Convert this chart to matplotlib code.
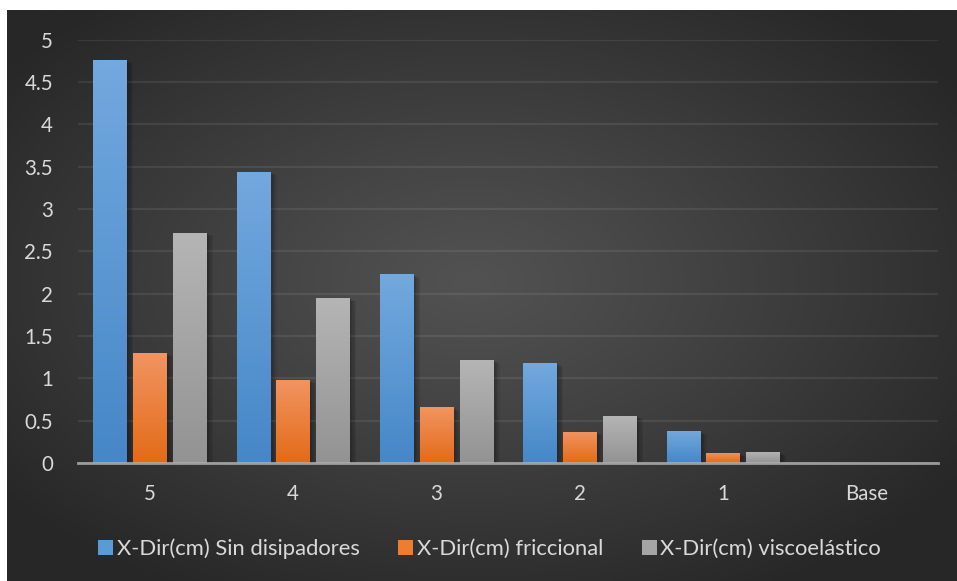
import numpy as np
import matplotlib
matplotlib.use('Agg')
import matplotlib.pyplot as plt
from matplotlib.colors import LinearSegmentedColormap
from matplotlib.patches import Patch
import matplotlib.patheffects as pe

categories = ['5', '4', '3', '2', '1', 'Base']
sin_disipadores = [4.76, 3.44, 2.23, 1.18, 0.38, 0.0]
friccional = [1.30, 0.98, 0.66, 0.37, 0.12, 0.0]
viscoelastico = [2.72, 1.95, 1.22, 0.56, 0.13, 0.0]
series_names = ['X-Dir(cm) Sin disipadores', 'X-Dir(cm) friccional',
                'X-Dir(cm) viscoelástico']
y_ticks = [0, 0.5, 1, 1.5, 2, 2.5, 3, 3.5, 4, 4.5, 5]
y_tick_labels = ['0', '0.5', '1', '1.5', '2', '2.5', '3', '3.5', '4', '4.5', '5']

# (top colour, bottom colour) of the vertical gradient in each series
fills = [('#72a9de', '#4687c8'), ('#f29462', '#e36b17'), ('#b5b5b5', '#939393')]
mid_colors = ['#5b9bd5', '#ed7d31', '#a5a5a5']
text_color = '#d9d9d9'
font_size = 14.8
legend_size = 15.8

plt.rcParams['font.family'] = ['Lato', 'DejaVu Sans']

W, H = 957, 581
fig = plt.figure(figsize=(W / 100, H / 100), dpi=100)
fig.patch.set_facecolor('white')

# dark radial background of the chart area
bg_ax = fig.add_axes([7 / W, 0, (W - 7) / W, (H - 10) / H])
bg_ax.set_axis_off()
gx, gy = np.meshgrid(np.linspace(-1, 1, 400), np.linspace(-1, 1, 300))
r = np.clip(np.sqrt((gx + 0.02) ** 2 + (gy + 0.05) ** 2) / 1.25, 0, 1)
shade = 0x52 - (0x52 - 0x27) * r ** 1.1
bg = np.dstack([shade, shade, shade]) / 255.0
bg_ax.imshow(bg, aspect='auto', extent=[0, 1, 0, 1], interpolation='bilinear')
bg_ax.set_xlim(0, 1)
bg_ax.set_ylim(0, 1)

ax = fig.add_axes([78 / W, 1 - 463 / H, 860 / W, (463 - 39.5) / H])
ax.set_facecolor('none')

x = np.arange(len(categories))
width = 0.232
step = 0.278
all_series = [sin_disipadores, friccional, viscoelastico]

# soft drop shadow: a few faint offset copies
shadow = [pe.SimplePatchShadow(offset=(dx, -dy), shadow_rgbFace='black', alpha=0.07)
          for dx, dy in [(1, 0.5), (2, 1), (3, 1.5), (4, 2), (5, 2.5)]]

for i, (vals, (top, bottom)) in enumerate(zip(all_series, fills)):
    bars = ax.bar(x + (i - 1) * step, vals, width, color=mid_colors[i], zorder=3,
                  path_effects=shadow + [pe.Normal()])
    cmap = LinearSegmentedColormap.from_list('g%d' % i, [bottom, top])
    grad = np.linspace(0, 1, 100).reshape(-1, 1)
    for bar in bars:
        if bar.get_height() <= 0:
            continue
        x0, y0 = bar.get_x(), bar.get_y()
        img = ax.imshow(grad, cmap=cmap, origin='lower', aspect='auto',
                        extent=[x0, x0 + bar.get_width(), y0, y0 + bar.get_height()],
                        zorder=4, interpolation='bilinear')
        img.set_clip_path(bar)

ax.set_xlim(-0.5, len(categories) - 0.5)
ax.set_ylim(0, 5)
ax.set_yticks(y_ticks)
ax.set_yticklabels(y_tick_labels)
ax.set_xticks(x)
ax.set_xticklabels(categories)
ax.tick_params(axis='both', length=0, labelcolor=text_color, labelsize=font_size)
ax.tick_params(axis='y', pad=18)
ax.tick_params(axis='x', pad=15)

ax.grid(axis='y', color='white', alpha=0.08, linewidth=1.6, zorder=1)
ax.set_axisbelow(True)
for side in ['top', 'right', 'left', 'bottom']:
    ax.spines[side].set_visible(False)
ax.axhline(0, color='#b0b0b0', alpha=0.85, linewidth=2, zorder=5, clip_on=False)

handles = [Patch(facecolor=c, edgecolor='none') for c in mid_colors]
fig.legend(handles, series_names, loc='center', bbox_to_anchor=(489.5 / W, 1 - 549 / H),
           ncol=3, frameon=False, fontsize=legend_size, labelcolor=text_color,
           handlelength=0.68, handleheight=0.64, handletextpad=0.18, columnspacing=1.75)

fig.savefig('out.png', dpi=100, facecolor=fig.get_facecolor())
